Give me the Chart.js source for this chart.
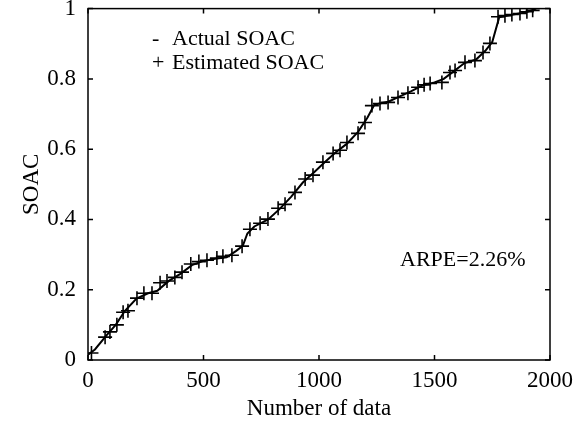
<!DOCTYPE html>
<html lang="en">
<head>
  <meta charset="UTF-8">
  <title>SOAC estimation</title>
  <style>
    html, body { margin: 0; padding: 0; background: #fff; }
    #wrap { width: 581px; height: 427px; }
  </style>
</head>
<body>
<div id="wrap">
  <canvas id="chart" width="581" height="427"></canvas>
</div>

<script src="https://cdn.jsdelivr.net/npm/chart.js"></script>

<script>
  // actual SOAC curve
  const actualX = [0, 30, 80, 120, 160, 210, 260, 300, 350, 400, 450, 500, 550, 600, 640, 670, 690, 720,
    780, 830, 880, 930, 980, 1020, 1070, 1120, 1170, 1210, 1240, 1300, 1350, 1400, 1450, 1500, 1540,
    1580, 1630, 1680, 1720, 1750, 1780, 1840, 1900, 1940];
  const actualY = [0.015, 0.03, 0.07, 0.10, 0.14, 0.175, 0.19, 0.197, 0.225, 0.245, 0.27, 0.282, 0.288,
    0.292, 0.31, 0.325, 0.36, 0.38, 0.40, 0.43, 0.465, 0.505, 0.535, 0.56, 0.59, 0.615, 0.65, 0.69,
    0.727, 0.735, 0.75, 0.765, 0.782, 0.79, 0.80, 0.82, 0.845, 0.855, 0.88, 0.905, 0.975, 0.983, 0.99, 1.0];

  // estimated SOAC markers
  const estX = [15, 74, 95, 125, 152, 173, 212, 242, 277, 312, 342, 376, 407, 445, 480, 515, 558, 584,
    623, 667, 701, 745, 779, 823, 853, 896, 940, 974, 1017, 1061, 1091, 1121, 1169, 1199, 1229, 1264,
    1299, 1342, 1385, 1429, 1455, 1481, 1532, 1567, 1589, 1632, 1675, 1710, 1740, 1775, 1805, 1835,
    1870, 1900, 1925];
  const estY = [0.02, 0.065, 0.08, 0.10, 0.136, 0.14, 0.176, 0.19, 0.19, 0.22, 0.225, 0.235, 0.25, 0.273,
    0.28, 0.284, 0.29, 0.295, 0.298, 0.324, 0.372, 0.389, 0.401, 0.432, 0.443, 0.477, 0.515, 0.526,
    0.563, 0.588, 0.597, 0.619, 0.645, 0.676, 0.724, 0.730, 0.733, 0.747, 0.759, 0.776, 0.783, 0.787,
    0.790, 0.818, 0.824, 0.847, 0.852, 0.875, 0.901, 0.977, 0.980, 0.983, 0.986, 0.991, 0.995];

  const xTicks = [0, 500, 1000, 1500, 2000];
  const yTicks = [0, 0.2, 0.4, 0.6, 0.8, 1];

  const FONT = '"Liberation Serif", "Times New Roman", serif';

  // frame, inward tick marks and the text notes
  const framePlugin = {
    id: 'frame',
    afterDatasetsDraw(chart) {
      const { ctx, chartArea: a, scales } = chart;
      ctx.save();
      ctx.strokeStyle = '#000';
      ctx.lineWidth = 1.5;
      ctx.strokeRect(a.left, a.top, a.right - a.left, a.bottom - a.top);
      ctx.beginPath();
      xTicks.forEach(v => {
        const px = scales.x.getPixelForValue(v);
        ctx.moveTo(px, a.bottom); ctx.lineTo(px, a.bottom - 5);
        ctx.moveTo(px, a.top); ctx.lineTo(px, a.top + 5);
      });
      yTicks.forEach(v => {
        const py = scales.y.getPixelForValue(v);
        ctx.moveTo(a.left, py); ctx.lineTo(a.left + 5, py);
        ctx.moveTo(a.right, py); ctx.lineTo(a.right - 5, py);
      });
      ctx.stroke();

      ctx.fillStyle = '#000';
      ctx.font = '22px ' + FONT;
      ctx.textBaseline = 'middle';
      ctx.textAlign = 'left';
      ctx.fillText('-', 152, 39);
      ctx.fillText('Actual SOAC', 172, 39);
      ctx.fillText('+', 152, 63);
      ctx.fillText('Estimated SOAC', 172, 63);
      ctx.fillText('ARPE=2.26%', 400, 260);
      ctx.restore();
    }
  };

  new Chart(document.getElementById('chart'), {
    type: 'scatter',
    data: {
      datasets: [
        {
          label: 'Actual SOAC',
          data: actualX.map((x, i) => ({ x, y: actualY[i] })),
          showLine: true,
          borderColor: '#000',
          borderWidth: 2,
          pointRadius: 0,
          tension: 0
        },
        {
          label: 'Estimated SOAC',
          data: estX.map((x, i) => ({ x, y: estY[i] })),
          showLine: false,
          pointStyle: 'cross',
          pointRadius: 7,
          borderColor: '#000',
          borderWidth: 1.6
        }
      ]
    },
    options: {
      responsive: false,
      animation: false,
      layout: { padding: { top: 8, right: 31, bottom: 0, left: 0 } },
      plugins: {
        legend: { display: false },
        tooltip: { enabled: false }
      },
      scales: {
        x: {
          type: 'linear',
          min: 0,
          max: 2000,
          afterBuildTicks: s => { s.ticks = xTicks.map(value => ({ value })); },
          afterFit: s => { s.height = 67; s.paddingLeft = 0; s.paddingRight = 0; },
          grid: { display: false, drawTicks: false },
          border: { display: false },
          ticks: {
            color: '#000',
            font: { family: FONT, size: 23 },
            padding: 7,
            maxRotation: 0,
            callback: v => String(v)
          },
          title: {
            display: true,
            text: 'Number of data',
            color: '#000',
            font: { family: FONT, size: 23 },
            padding: { top: 0, bottom: 4 }
          }
        },
        y: {
          min: 0,
          max: 1,
          afterBuildTicks: s => { s.ticks = yTicks.map(value => ({ value })); },
          afterFit: s => { s.width = 88; s.paddingTop = 0; s.paddingBottom = 0; },
          grid: { display: false, drawTicks: false },
          border: { display: false },
          ticks: {
            color: '#000',
            font: { family: FONT, size: 23 },
            padding: 12,
            callback: v => String(Number(v.toFixed(1)))
          },
          title: {
            display: true,
            text: 'SOAC',
            color: '#000',
            font: { family: FONT, size: 23 },
            padding: { top: 18, bottom: 0 }
          }
        }
      }
    },
    plugins: [framePlugin]
  });
</script>
</body>
</html>
